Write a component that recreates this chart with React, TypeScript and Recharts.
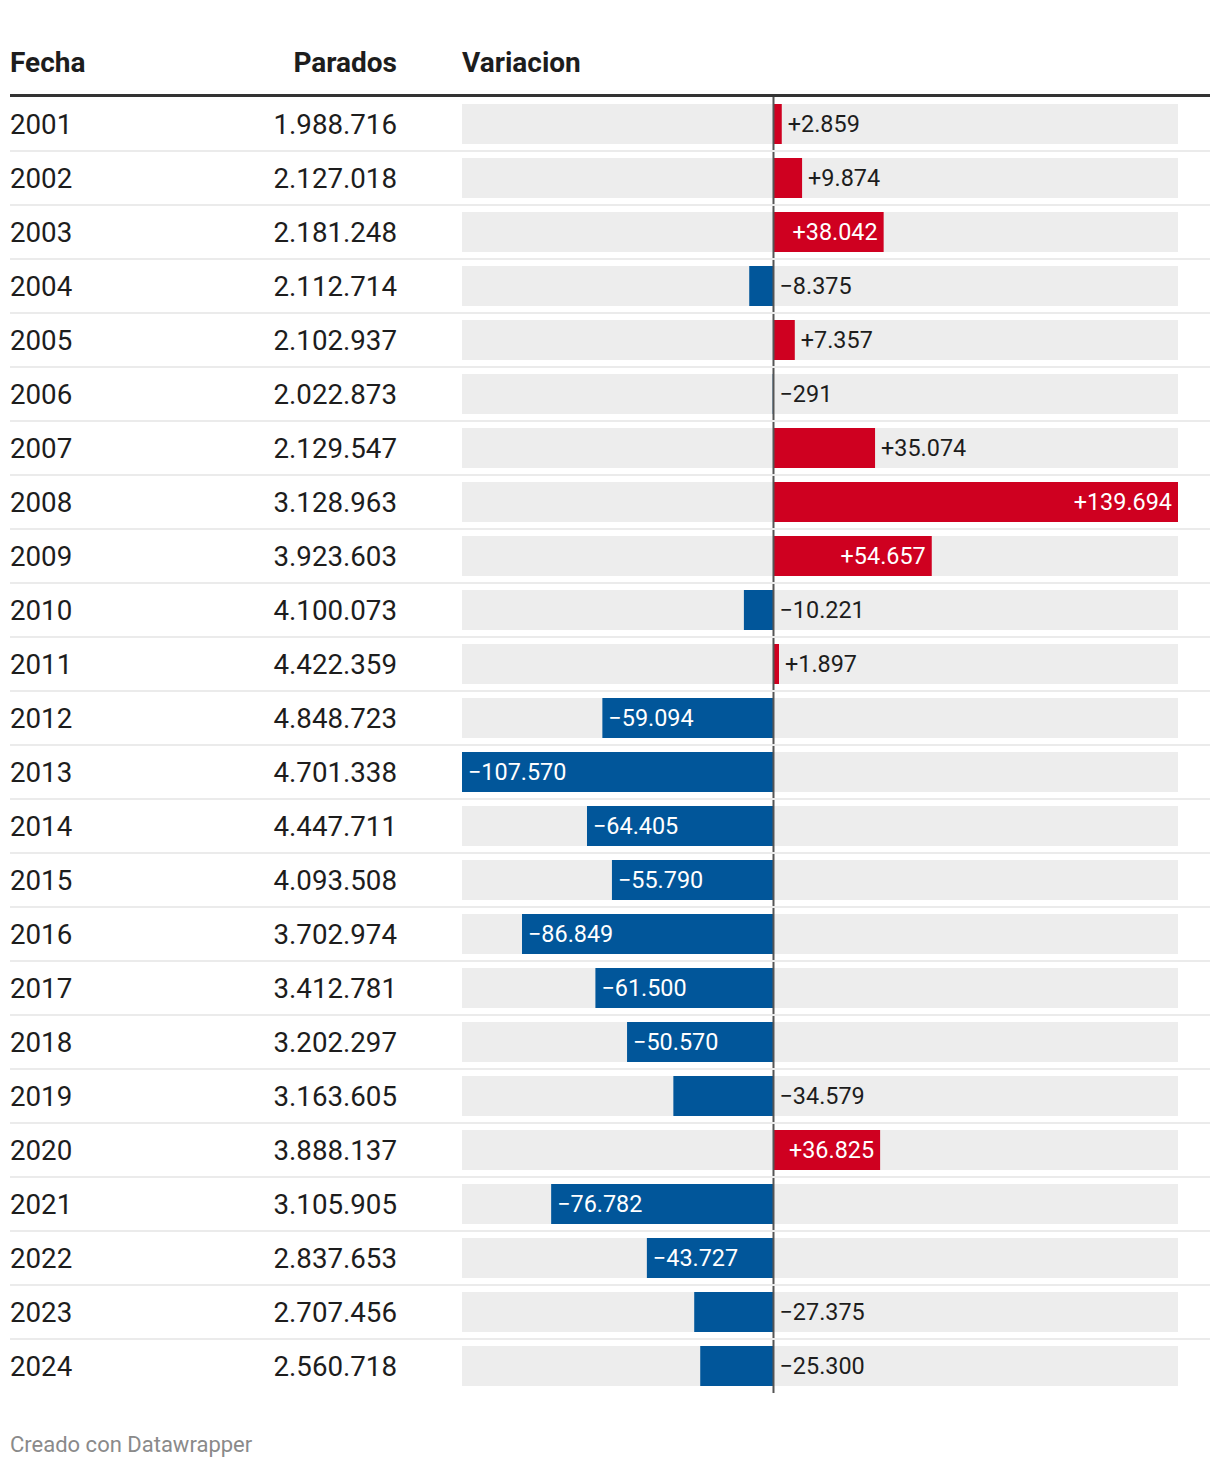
import React from 'react';
import { BarChart, Bar, XAxis, YAxis, Cell, LabelList, ReferenceLine } from 'recharts';

const headers = ['Fecha', 'Parados', 'Variacion'];
const footer = 'Creado con Datawrapper';

const years = ['2001', '2002', '2003', '2004', '2005', '2006', '2007', '2008', '2009', '2010', '2011', '2012',
  '2013', '2014', '2015', '2016', '2017', '2018', '2019', '2020', '2021', '2022', '2023', '2024'];

const parados = [1988716, 2127018, 2181248, 2112714, 2102937, 2022873, 2129547, 3128963, 3923603, 4100073,
  4422359, 4848723, 4701338, 4447711, 4093508, 3702974, 3412781, 3202297, 3163605, 3888137, 3105905,
  2837653, 2707456, 2560718];

const variacion = [2859, 9874, 38042, -8375, 7357, -291, 35074, 139694, 54657, -10221, 1897, -59094,
  -107570, -64405, -55790, -86849, -61500, -50570, -34579, 36825, -76782, -43727, -27375, -25300];

const RED = '#cf0020';
const BLUE = '#01569a';
const TEXT = '#1d1d1d';
const FONT = 'Roboto, sans-serif';

const fmt = (n: number) => Math.abs(n).toString().replace(/\B(?=(\d{3})+(?!\d))/g, '.');
const fmtVar = (n: number) => (n >= 0 ? '+' : '\u2212') + fmt(n);

const data = years.map((y, i) => ({ year: y, parados: parados[i], v: variacion[i] }));

const W = 1220;
const H = 1468;

const RowTick = (props: any) => {
  const { y, payload } = props;
  const i = years.indexOf(String(payload.value));
  return (
    <g>
      <text x={10} y={y + 10} fontFamily={FONT} fontSize={27.7} fill={TEXT} textAnchor="start">
        {years[i]}
      </text>
      <text x={397} y={y + 10} fontFamily={FONT} fontSize={27.7} fill={TEXT} textAnchor="end">
        {fmt(parados[i])}
      </text>
      {i < years.length - 1 && (
        <line x1={10} x2={1210} y1={y + 27} y2={y + 27} stroke="#ebebeb" strokeWidth={2} />
      )}
    </g>
  );
};

const renderLabel = (props: any) => {
  const { x, y, width, height, value } = props;
  const v = Number(value);
  const left = Math.min(x, x + width);
  const right = Math.max(x, x + width);
  const w = Math.abs(width);
  const cy = y + height / 2 + 8.3;
  const label = fmtVar(v);
  const inside = w > 104;
  let tx: number;
  let anchor: 'start' | 'end';
  let fill = TEXT;
  if (v >= 0) {
    if (inside) {
      tx = right - 6;
      anchor = 'end';
      fill = '#ffffff';
    } else {
      tx = right + 6;
      anchor = 'start';
    }
  } else {
    if (inside) {
      tx = left + 6;
      anchor = 'start';
      fill = '#ffffff';
    } else {
      tx = right + 6;
      anchor = 'start';
    }
  }
  return (
    <text x={tx} y={cy} fontFamily={FONT} fontSize={23.4} fill={fill} textAnchor={anchor}>
      {label}
    </text>
  );
};

export default function App() {
  const minV = Math.min(...variacion);
  const maxV = Math.max(...variacion);
  return (
    <div style={{ position: 'absolute', left: 0, top: 0, width: W, height: H, background: '#fff', fontFamily: FONT }}>
      <BarChart
        width={W}
        height={H}
        data={data}
        layout="vertical"
        margin={{ top: 97, right: 42, bottom: 75, left: 10 }}
        barSize={40}
      >
        <XAxis type="number" domain={[minV, maxV]} hide allowDataOverflow />
        <YAxis
          type="category"
          dataKey="year"
          width={452}
          axisLine={false}
          tickLine={false}
          interval={0}
          tick={<RowTick />}
        />
        <Bar dataKey="v" isAnimationActive={false} background={{ fill: '#ededed' }}>
          {data.map((d, i) => (
            <Cell key={i} fill={d.v >= 0 ? RED : BLUE} />
          ))}
          <LabelList dataKey="v" content={renderLabel} />
        </Bar>
        <ReferenceLine x={0} stroke="#555" strokeWidth={2} ifOverflow="visible" />
      </BarChart>
      <svg width={W} height={H} style={{ position: 'absolute', left: 0, top: 0, pointerEvents: 'none' }}>
        <text x={10} y={72} fontFamily={FONT} fontWeight={700} fontSize={28} fill={TEXT}>{headers[0]}</text>
        <text x={397} y={72} fontFamily={FONT} fontWeight={700} fontSize={28} fill={TEXT} textAnchor="end">{headers[1]}</text>
        <text x={462} y={72} fontFamily={FONT} fontWeight={700} fontSize={28} fill={TEXT}>{headers[2]}</text>
        <rect x={10} y={94} width={1200} height={3} fill="#333" />
        <text x={10} y={1452} fontFamily={FONT} fontSize={22} fill="#8a8a8a">{footer}</text>
      </svg>
    </div>
  );
}
